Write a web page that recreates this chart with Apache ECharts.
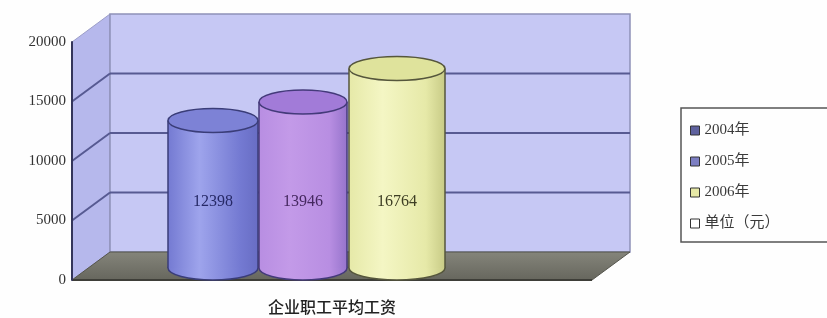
<!DOCTYPE html>
<html>
<head>
<meta charset="utf-8">
<script src="https://cdn.jsdelivr.net/npm/echarts@6/dist/echarts.min.js"></script>
<style>
  html, body { margin: 0; padding: 0; background: #fefefe; }
  #chart { width: 827px; height: 318px; }
</style>
</head>
<body>
<div id="chart"></div>
<script>
var categories = ['企业职工平均工资'];
var seriesNames = ['2004年', '2005年', '2006年', '单位（元）'];
var wages = [12398, 13946, 16764];
var yTicks = [0, 5000, 10000, 15000, 20000];

// look of the 3D box and cylinders
var DEPTH = [38, -28];
var DEPTH_MID = [16, -12];
var barOffset = [-135, -45, 49];
var barWidth = [90, 88, 96];
var palette = [
  { left: '#747ad2', mid: '#9ea4ec', right: '#686dc4', top: '#7d82d6', line: '#3a3d78', text: '#262966', legend: '#5e619e' },
  { left: '#b88ee2', mid: '#c39ae8', right: '#9674cc', top: '#a27bd8', line: '#443a7a', text: '#45285f', legend: '#7c7ec2' },
  { left: '#e6e9a8', mid: '#f4f6c4', right: '#c8cb86', top: '#dfe39c', line: '#55563c', text: '#3e3e24', legend: '#e6e8a6' }
];
var serif = '"Liberation Serif", "DejaVu Serif", "Noto Sans CJK SC", serif';

var chart = echarts.init(document.getElementById('chart'));

function renderWalls(params, api) {
  var cs = params.coordSys;
  var x0 = cs.x, x1 = cs.x + cs.width;
  var dx = DEPTH[0], dy = DEPTH[1];
  var yBase = api.coord([0, yTicks[0]])[1];
  var yTop = api.coord([0, yTicks[yTicks.length - 1]])[1];
  var kids = [];
  kids.push({
    type: 'polygon',
    shape: { points: [[x0, yBase], [x0, yTop], [x0 + dx, yTop + dy], [x0 + dx, yBase + dy]] },
    style: { fill: '#b6b8ec', stroke: '#9c9ec8', lineWidth: 1 }
  });
  kids.push({
    type: 'rect',
    shape: { x: x0 + dx, y: yTop + dy, width: x1 - x0, height: yBase - yTop },
    style: { fill: '#c6c8f4', stroke: '#8f91b8', lineWidth: 1.5 }
  });
  for (var i = 1; i < yTicks.length - 1; i++) {
    var y = api.coord([0, yTicks[i]])[1];
    kids.push({
      type: 'line',
      shape: { x1: x0 + dx, y1: y + dy, x2: x1 + dx, y2: y + dy },
      style: { stroke: '#575a92', lineWidth: 2 }
    });
    kids.push({
      type: 'line',
      shape: { x1: x0, y1: y, x2: x0 + dx, y2: y + dy },
      style: { stroke: '#575a92', lineWidth: 2 }
    });
  }
  kids.push({
    type: 'polygon',
    shape: { points: [[x0, yBase], [x1, yBase], [x1 + dx, yBase + dy], [x0 + dx, yBase + dy]] },
    style: {
      fill: { type: 'linear', x: 0, y: 0, x2: 0, y2: 1, colorStops: [
        { offset: 0, color: '#85857b' }, { offset: 1, color: '#66665d' }] },
      stroke: '#55554d', lineWidth: 1
    }
  });
  kids.push({
    type: 'line',
    shape: { x1: x0, y1: yBase, x2: x1, y2: yBase },
    style: { stroke: '#3e3e38', lineWidth: 2 }
  });
  return { type: 'group', children: kids };
}

function cylinder(idx) {
  return function (params, api) {
    var p = palette[idx];
    var top = api.coord([api.value(0), api.value(1)]);
    var base = api.coord([api.value(0), 0]);
    var cx = top[0] + DEPTH_MID[0] + barOffset[idx];
    var ty = top[1] + DEPTH_MID[1];
    var by = base[1] + DEPTH_MID[1];
    var rx = barWidth[idx] / 2, ry = 12;
    var grad = { type: 'linear', x: 0, y: 0, x2: 1, y2: 0, colorStops: [
      { offset: 0, color: p.left }, { offset: 0.35, color: p.mid },
      { offset: 0.8, color: p.left }, { offset: 1, color: p.right }] };
    return {
      type: 'group',
      children: [
        { type: 'ellipse', shape: { cx: cx, cy: by, rx: rx, ry: ry },
          style: { fill: grad, stroke: p.line, lineWidth: 1.5 } },
        { type: 'rect', shape: { x: cx - rx, y: ty, width: rx * 2, height: by - ty },
          style: { fill: grad } },
        { type: 'line', shape: { x1: cx - rx, y1: ty, x2: cx - rx, y2: by },
          style: { stroke: p.line, lineWidth: 1.5 } },
        { type: 'line', shape: { x1: cx + rx, y1: ty, x2: cx + rx, y2: by },
          style: { stroke: p.line, lineWidth: 1.5 } },
        { type: 'ellipse', shape: { cx: cx, cy: ty, rx: rx, ry: ry },
          style: { fill: p.top, stroke: p.line, lineWidth: 1.5 } },
        { type: 'text', x: cx, y: by - 66,
          style: { text: String(api.value(1)), fill: p.text, font: '16px ' + serif,
                   align: 'center', verticalAlign: 'middle' } }
      ]
    };
  };
}

var series = [{
  type: 'custom',
  name: 'walls',
  z: 1,
  silent: true,
  renderItem: renderWalls,
  data: [[0, 0]]
}];
wages.forEach(function (v, i) {
  series.push({
    type: 'custom',
    name: seriesNames[i],
    z: 3,
    renderItem: cylinder(i),
    itemStyle: { color: palette[i].legend },
    data: [[0, v]]
  });
});
series.push({
  type: 'custom',
  name: seriesNames[3],
  itemStyle: { color: '#ffffff' },
  renderItem: function () { return null; },
  data: []
});

chart.setOption({
  backgroundColor: '#fefefe',
  animation: false,
  grid: { left: 72, right: 235, top: 42, bottom: 38 },
  xAxis: {
    type: 'category',
    data: categories,
    axisLine: { show: false },
    axisTick: { show: false },
    axisLabel: { fontSize: 16, color: '#222', margin: 19, fontWeight: 500,
                 fontFamily: '"Noto Sans CJK SC", sans-serif' }
  },
  yAxis: {
    type: 'value',
    min: 0,
    max: 20000,
    interval: 5000,
    z: 10,
    axisLine: { show: true, lineStyle: { color: '#34355a', width: 2 } },
    axisTick: { show: false },
    splitLine: { show: false },
    axisLabel: { fontSize: 15, color: '#333', margin: 6, fontFamily: serif,
                 formatter: function (v) { return String(v); } }
  },
  legend: {
    orient: 'vertical',
    left: 681,
    top: 108,
    padding: [15, 60, 11, 9],
    itemGap: 16,
    itemWidth: 9,
    itemHeight: 9,
    icon: 'rect',
    borderColor: '#555',
    borderWidth: 1.5,
    textStyle: { fontSize: 15, color: '#3a3a3a', fontFamily: serif },
    data: seriesNames.map(function (n, i) {
      return {
        name: n,
        itemStyle: { color: i < 3 ? palette[i].legend : '#ffffff', borderColor: '#333', borderWidth: 1 }
      };
    })
  },
  series: series
});
</script>
</body>
</html>
